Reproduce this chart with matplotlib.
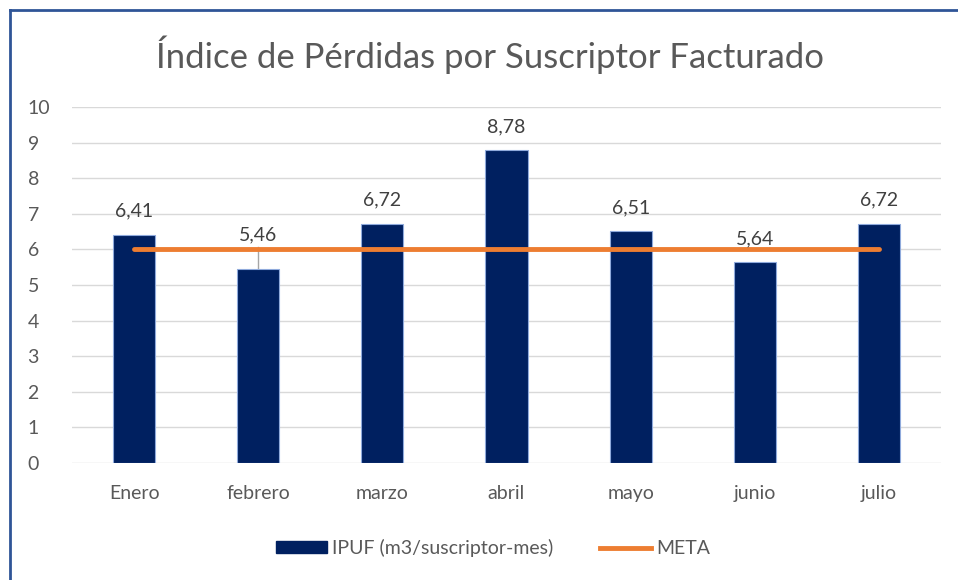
import numpy as np
import matplotlib.pyplot as plt
from matplotlib.lines import Line2D

meses = ["Enero", "febrero", "marzo", "abril", "mayo", "junio", "julio"]
ipuf = [6.41, 5.46, 6.72, 8.78, 6.51, 5.64, 6.72]
meta = [6, 6, 6, 6, 6, 6, 6]

gris = "#595959"
azul = "#002060"
naranja = "#ED7D31"

plt.rcParams['font.family'] = ['Lato', 'DejaVu Sans']

fig = plt.figure(figsize=(9.58, 5.8), dpi=100)
ax = fig.add_axes([72/958, 1-463/580, (941-72)/958, (463-107)/580])

x = np.arange(len(meses))
ax.bar(x, ipuf, width=0.34, color=azul, edgecolor="#8FAADC", linewidth=0.8,
       label="IPUF (m3/suscriptor-mes)", zorder=2)
ax.plot(x, meta, color=naranja, linewidth=3.5, solid_capstyle="round",
        label="META", zorder=3)

for i, v in enumerate(ipuf):
    yl = v + 0.42
    if i == 1:
        yl = 6.18
        ax.plot([i, i], [v, yl - 0.1], color="#A6A6A6", linewidth=1, zorder=1)
    ax.text(i, yl, ("%.2f" % v).replace(".", ","), ha="center", va="bottom",
            fontsize=14, color="#404040")

ax.set_xlim(-0.5, len(meses) - 0.5)
ax.set_ylim(0, 10)
ax.set_yticks(range(0, 11))
ax.set_xticks(x)
ax.set_xticklabels(meses)
ax.grid(axis="y", color="#D9D9D9", linewidth=1, zorder=0)
ax.set_axisbelow(True)
for s in ax.spines.values():
    s.set_visible(False)
ax.tick_params(length=0, labelsize=14, colors=gris)
ax.tick_params(axis="x", pad=16)
for t in ax.get_yticklabels():
    t.set_horizontalalignment("left")
ax.tick_params(axis="y", pad=32)

fig.text(0.512, 1-55/580, "Índice de Pérdidas por Suscriptor Facturado",
         ha="center", va="center", fontsize=25, color=gris)

handles = [plt.Rectangle((0, 0), 1, 1, color=azul),
           Line2D([], [], color=naranja, linewidth=3.5)]
fig.legend(handles, ["IPUF (m3/suscriptor-mes)", "META"], loc="center",
           bbox_to_anchor=(0.515, 1-548/580), ncol=2, frameon=False,
           fontsize=14, labelcolor=gris, handlelength=2.6, handleheight=0.6,
           columnspacing=2.4, handletextpad=0.3)

# borde del grafico
fig.add_artist(Line2D([10/958, 1], [1-10/580, 1-10/580], color="#2F5597", linewidth=2))
fig.add_artist(Line2D([10/958, 10/958], [0, 1-10/580], color="#2F5597", linewidth=2))

fig.savefig("out.png", dpi=100)
